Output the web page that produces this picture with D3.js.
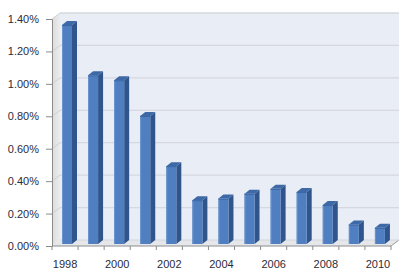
<!DOCTYPE html>
<html><head><meta charset="utf-8">
<script src="https://cdn.jsdelivr.net/npm/d3@7"></script>
<style>
html,body{margin:0;padding:0;background:#fff;}
svg{display:block;font-family:"Liberation Sans",Arial,sans-serif;}
</style></head>
<body><div id="chart"></div>
<script>
const years = ["1998","1999","2000","2001","2002","2003","2004","2005","2006","2007","2008","2009","2010"];
const values = [1.35,1.04,1.01,0.79,0.48,0.27,0.28,0.31,0.34,0.32,0.24,0.12,0.10];
const yTicks = [0,0.2,0.4,0.6,0.8,1.0,1.2,1.4];
const xLabels = ["1998","2000","2002","2004","2006","2008","2010"];

(function(){
const W = 408, H = 278;
const svg = d3.select("#chart").append("svg").attr("width", W).attr("height", H);

const pL = 52, pR = 391, pB = 246, pT = 19;
const DX = 8, DY = -6;         // wall depth
const x = d3.scaleBand().domain(years).range([pL, pR]).padding(0);
const y = d3.scaleLinear().domain([0, 1.4]).range([pB, pT]);

// left wall
const gL = svg.append("defs").append("linearGradient").attr("id","lw").attr("x1",0).attr("x2",1);
gL.append("stop").attr("offset",0).attr("stop-color","#dcdcdc");
gL.append("stop").attr("offset",1).attr("stop-color","#ececec");
svg.append("path")
  .attr("d", `M${pL},${pB}L${pL},${pT}L${pL+DX},${pT+DY}L${pL+DX},${pB+DY}Z`)
  .attr("fill","url(#lw)");
// back wall
svg.append("rect").attr("x", pL+DX).attr("y", pT+DY).attr("width", pR-pL).attr("height", pB-pT)
  .attr("fill","#e9edf6");
// floor
svg.append("path")
  .attr("d", `M${pL},${pB}L${pR},${pB}L${pR+DX},${pB+DY}L${pL+DX},${pB+DY}Z`)
  .attr("fill","#e6e7ea");
svg.append("path")
  .attr("d", `M${pR},${pB}L${pR+DX},${pB+DY}`)
  .attr("stroke","#9a9a9a").attr("fill","none");
svg.append("path")
  .attr("d", `M${pL+DX},${pB+DY}L${pR+DX},${pB+DY}`)
  .attr("stroke","#d4d6da").attr("fill","none");

// back wall gridlines + left wall grid segments
yTicks.forEach(t => {
  if (t === 0) return;
  svg.append("line").attr("x1", pL+DX).attr("x2", pR+DX)
    .attr("y1", y(t)+DY).attr("y2", y(t)+DY)
    .attr("stroke","#d5d8de").attr("stroke-width",1.3);
  svg.append("line").attr("x1", pL).attr("x2", pL+DX)
    .attr("y1", y(t)).attr("y2", y(t)+DY)
    .attr("stroke","#d0d0d0").attr("stroke-width",1);
});

// bars
const bw = x.bandwidth();
const sh = 2;          // depth placement shift
const bdx = 5, bdy = -4;
const bars = svg.append("g");
years.forEach((yr, i) => {
  const x0 = x(yr) + 10, w = 10;
  const yt = y(values[i]) - sh, yb = pB - sh;
  bars.append("path")
    .attr("d", `M${x0+w},${yb}L${x0+w},${yt}L${x0+w+bdx},${yt+bdy}L${x0+w+bdx},${yb+bdy}Z`)
    .attr("fill","#2f558c");
  bars.append("path")
    .attr("d", `M${x0},${yt}L${x0+w},${yt}L${x0+w+bdx},${yt+bdy}L${x0+bdx},${yt+bdy}Z`)
    .attr("fill","#3d69a6");
  bars.append("rect").attr("x", x0).attr("y", yt).attr("width", w).attr("height", yb-yt)
    .attr("fill","#4f7fc1");
  bars.append("line").attr("x1", x0+0.5).attr("x2", x0+0.5).attr("y1", yt).attr("y2", yb)
    .attr("stroke","#6b94cc").attr("stroke-width",1);
  bars.append("line").attr("x1", x0).attr("x2", x0+w).attr("y1", yt+0.5).attr("y2", yt+0.5)
    .attr("stroke","#3a64a0").attr("stroke-width",1);
});

// y axis
const yAxis = d3.axisLeft(y).tickValues(yTicks).tickSize(6).tickPadding(7)
  .tickFormat(d => d3.format(".2f")(d) + "%");
const ga = svg.append("g").attr("transform", `translate(${pL},0)`).call(yAxis);
ga.select(".domain").attr("stroke","#8c8c8c");
ga.selectAll(".tick line").attr("stroke","#8c8c8c");
ga.selectAll("text").attr("font-size","11px").attr("fill","#2b2b3a")
  .attr("font-family","'Liberation Sans',Arial,sans-serif");

// x axis
const xa = svg.append("g").attr("transform", `translate(0,${pB})`);
xa.append("line").attr("x1", pL).attr("x2", pR).attr("y1", 0).attr("y2", 0).attr("stroke","#8c8c8c");
const bounds = years.map(yr => x(yr)).concat([pR]);
xa.selectAll(".tk").data(bounds).join("line")
  .attr("x1", d => d).attr("x2", d => d).attr("y1", 0).attr("y2", 4).attr("stroke","#8c8c8c");
xa.selectAll(".lb").data(xLabels).join("text")
  .attr("x", d => x(d) + bw/2).attr("y", 22)
  .attr("text-anchor","middle").attr("font-size","11px").attr("fill","#2b2b3a")
  .text(d => d);
})();
</script></body></html>
